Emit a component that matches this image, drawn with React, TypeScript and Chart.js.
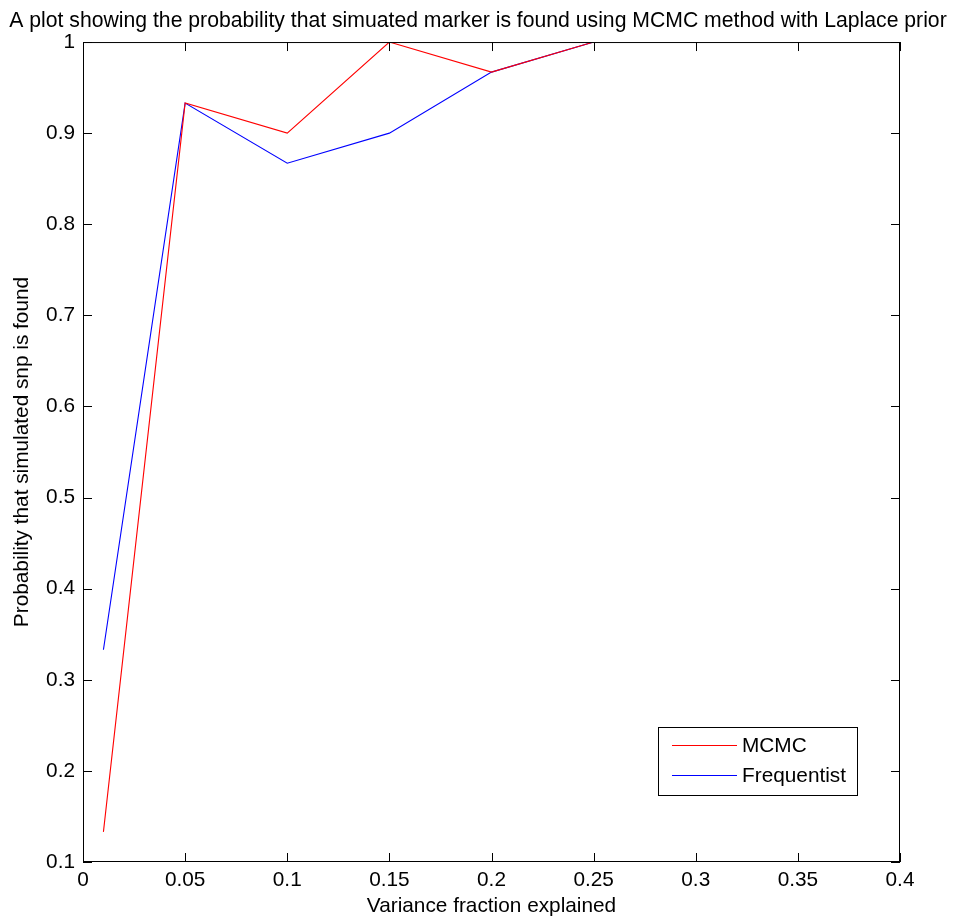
import React, { useEffect, useRef } from "react";
import { Chart, registerables } from "chart.js";

Chart.register(...registerables);

const titleText =
  "A plot showing the probability that simuated marker is found using MCMC method with Laplace prior";
const xAxisTitle = "Variance fraction explained";
const yAxisTitle = "Probability that simulated snp is found";

const varianceFractions = [0.01, 0.05, 0.1, 0.15, 0.2, 0.25];
const mcmcValues = [0.133, 0.933, 0.9, 1.0, 0.967, 1.0];
const frequentistValues = [0.333, 0.933, 0.867, 0.9, 0.967, 1.0];

const xTicks = [0, 0.05, 0.1, 0.15, 0.2, 0.25, 0.3, 0.35, 0.4];
const yTicks = [0.1, 0.2, 0.3, 0.4, 0.5, 0.6, 0.7, 0.8, 0.9, 1];

const seriesNames = ["MCMC", "Frequentist"];
const seriesColors = ["#ff0000", "#0000ff"];

const FONT = "'Liberation Sans', Arial, Helvetica, sans-serif";
const FS = 20.8;
const TITLE_FS = 21.2;

const fmt = (v: number) => String(Number(v.toFixed(4)));

const matlabBoxPlugin = {
  id: "matlabBox",
  afterDatasetsDraw(chart: any) {
    const { ctx, chartArea } = chart;
    const { left, right, top, bottom } = chartArea;
    const xs = chart.scales.x;
    const ys = chart.scales.y;
    const tl = 9;
    ctx.save();
    ctx.strokeStyle = "#000";
    ctx.lineWidth = 1;
    ctx.strokeRect(left + 0.5, top + 0.5, right - left - 1, bottom - top - 1);
    ctx.beginPath();
    for (const v of xTicks) {
      const px = Math.round(xs.getPixelForValue(v)) + 0.5;
      ctx.moveTo(px, bottom);
      ctx.lineTo(px, bottom - tl);
      ctx.moveTo(px, top);
      ctx.lineTo(px, top + tl);
    }
    for (const v of yTicks) {
      const py = Math.round(ys.getPixelForValue(v)) + 0.5;
      ctx.moveTo(left, py);
      ctx.lineTo(left + tl, py);
      ctx.moveTo(right, py);
      ctx.lineTo(right - tl, py);
    }
    ctx.stroke();

    // legend box (MATLAB style, inside the axes)
    const bw = 199;
    const bh = 68;
    const bx = Math.round(right - 43 - bw);
    const by = Math.round(bottom - 67 - bh);
    ctx.fillStyle = "#fff";
    ctx.fillRect(bx, by, bw, bh);
    ctx.strokeStyle = "#000";
    ctx.lineWidth = 1;
    ctx.strokeRect(bx + 0.5, by + 0.5, bw, bh);
    ctx.font = `${FS}px ${FONT}`;
    ctx.textBaseline = "middle";
    ctx.textAlign = "left";
    chart.data.datasets.forEach((ds: any, i: number) => {
      const ly = by + 18 + i * 30;
      ctx.strokeStyle = seriesColors[i];
      ctx.lineWidth = 1;
      ctx.beginPath();
      ctx.moveTo(bx + 14, ly + 0.5);
      ctx.lineTo(bx + 79, ly + 0.5);
      ctx.stroke();
      ctx.fillStyle = "#000";
      ctx.fillText(ds.label, bx + 84, ly + 1);
    });
    ctx.restore();
  },
};

export default function App() {
  const ref = useRef<HTMLCanvasElement | null>(null);

  useEffect(() => {
    if (!ref.current) return;
    Chart.defaults.color = "#000";
    const makeData = (vals: number[]) =>
      varianceFractions.map((x, i) => ({ x, y: vals[i] }));
    const chart = new Chart(ref.current, {
      type: "scatter",
      data: {
        datasets: [
          {
            label: seriesNames[0],
            data: makeData(mcmcValues),
            showLine: true,
            borderColor: seriesColors[0],
            backgroundColor: seriesColors[0],
            borderWidth: 1.1,
            pointRadius: 0,
            tension: 0,
          },
          {
            label: seriesNames[1],
            data: makeData(frequentistValues),
            showLine: true,
            borderColor: seriesColors[1],
            backgroundColor: seriesColors[1],
            borderWidth: 1.1,
            pointRadius: 0,
            tension: 0,
          },
        ],
      },
      options: {
        responsive: false,
        animation: false,
        layout: { padding: 0 },
        plugins: {
          legend: { display: false },
          tooltip: { enabled: false },
          title: {
            display: true,
            text: titleText,
            color: "#000",
            font: { family: FONT, size: TITLE_FS, weight: "normal" as any, lineHeight: 1.2 },
            padding: { top: 8, bottom: 8.6 },
          },
        },
        scales: {
          x: {
            type: "linear",
            min: 0,
            max: 0.4,
            afterBuildTicks: (s: any) => {
              s.ticks = xTicks.map((v) => ({ value: v }));
            },
            afterFit: (s: any) => {
              s.height = 57;
            },
            grid: { display: false, drawTicks: false },
            border: { display: false },
            ticks: {
              color: "#000",
              font: { family: FONT, size: FS },
              padding: 6,
              maxRotation: 0,
              autoSkip: false,
              callback: (v: any) => fmt(Number(v)),
            },
            title: {
              display: true,
              text: xAxisTitle,
              color: "#000",
              font: { family: FONT, size: FS, lineHeight: 1.2 },
              padding: { top: 0, bottom: 0 },
            },
          },
          y: {
            type: "linear",
            min: 0.1,
            max: 1,
            afterBuildTicks: (s: any) => {
              s.ticks = yTicks.map((v) => ({ value: v }));
            },
            afterFit: (s: any) => {
              s.width = 83;
            },
            grid: { display: false, drawTicks: false },
            border: { display: false },
            ticks: {
              color: "#000",
              font: { family: FONT, size: FS },
              padding: 8,
              autoSkip: false,
              callback: (v: any) => fmt(Number(v)),
            },
            title: {
              display: true,
              text: yAxisTitle,
              color: "#000",
              font: { family: FONT, size: FS, lineHeight: 1.2 },
              padding: { top: 10, bottom: 0 },
            },
          },
          yRight: {
            type: "linear",
            position: "right",
            min: 0.1,
            max: 1,
            afterFit: (s: any) => {
              s.width = 56;
            },
            grid: { display: false, drawTicks: false },
            border: { display: false },
            ticks: { display: false },
          },
        },
      },
      plugins: [matlabBoxPlugin],
    });
    return () => chart.destroy();
  }, []);

  return (
    <div style={{ position: "absolute", left: 0, top: 0, width: 956, height: 919, background: "#fff" }}>
      <canvas ref={ref} width={956} height={919} style={{ display: "block" }} />
    </div>
  );
}
